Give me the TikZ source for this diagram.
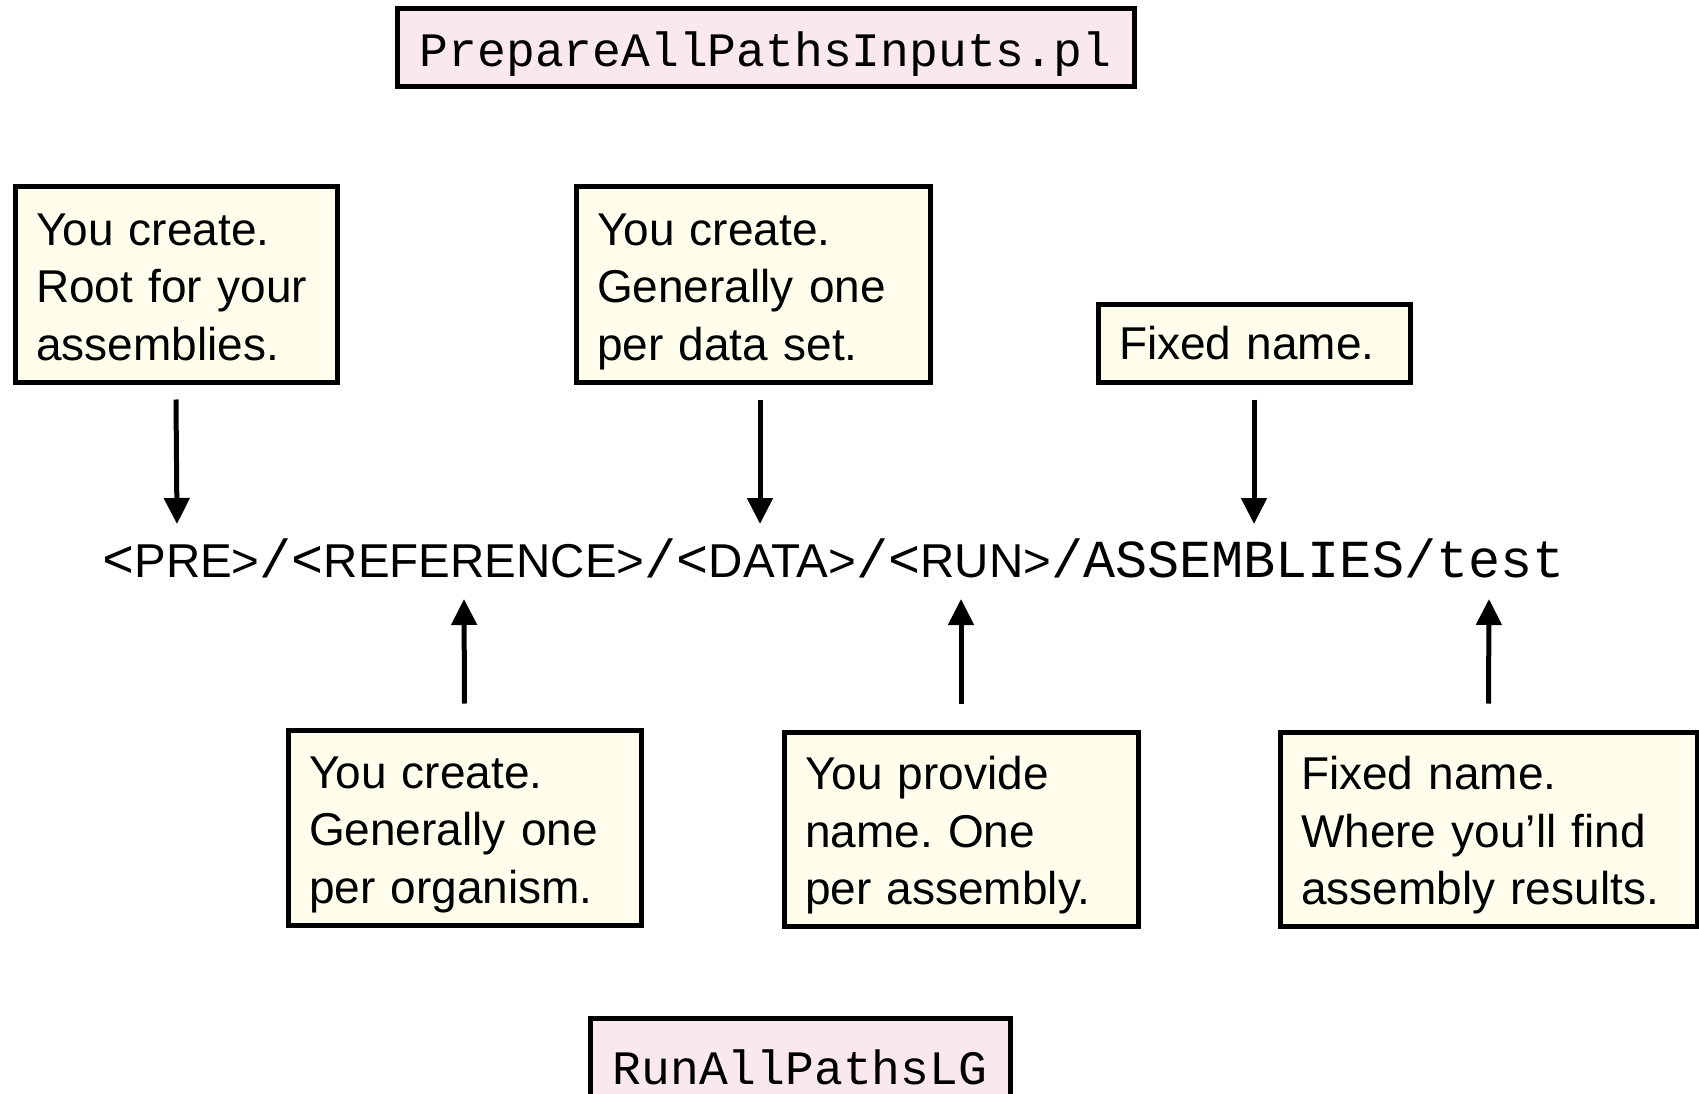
\documentclass[tikz,border=0pt]{standalone}
\usepackage{fontspec}
\setmainfont{Liberation Sans}
\setmonofont{Liberation Mono}
\usepackage{tikz}
\usetikzlibrary{arrows.meta,positioning}
\definecolor{scriptpink}{RGB}{249,232,236}
\definecolor{notecream}{RGB}{255,253,236}
\tikzset{
    scriptbox/.style={draw=black, line width=5pt, fill=scriptpink, inner sep=0pt,
        text height=48pt, text depth=10pt, font=\ttfamily\fontsize{48pt}{56pt}\selectfont},
    notebox/.style={draw=black, line width=5pt, fill=notecream, inner xsep=21pt, inner ysep=0pt,
        align=left, font=\fontsize{46pt}{57.5pt}\selectfont},
    threelines/.style={text height=35pt, text depth=114pt},
    pointer/.style={line width=5pt, -{Triangle[length=26pt,width=25pt]}}
}
\frenchspacing

\begin{document}
\begin{tikzpicture}[x=1pt,y=-1pt]
        \useasboundingbox (0,0) rectangle (1699,1094);
        % Scripts
        \node[scriptbox, minimum width=737pt, minimum height=78pt] (prepareScript) at (765.5,48) {PrepareAllPathsInputs.pl};
        \node[scriptbox, minimum width=420pt, minimum height=94pt] (runScript) at (800,1065) {RunAllPathsLG};
        % Directory path
        \node[inner sep=0pt, anchor=base, font=\fontsize{47.5pt}{60pt}\selectfont] (dirPath) at (833.5,577)
            {{\ttfamily\fontsize{53.5pt}{60pt}\selectfont<}PRE>{\ttfamily\fontsize{53.5pt}{60pt}\selectfont/<}REFERENCE>{\ttfamily\fontsize{53.5pt}{60pt}\selectfont/<}DATA>{\ttfamily\fontsize{53.5pt}{60pt}\selectfont/<}RUN>{\ttfamily\fontsize{53.5pt}{60pt}\selectfont/ASSEMBLIES/test}};
        % Notes above
        \node[notebox, threelines, text width=280pt, minimum height=195pt] (preNote) at (176,284.5)
            {You create.\\Root for your\\assemblies.};
        \node[notebox, threelines, text width=312pt, minimum height=195pt] (dataNote) at (753,284.5)
            {You create.\\Generally one\\per data set.};
        \node[notebox, text width=270pt, minimum height=78pt] (asmNote) at (1254,343)
            {Fixed name.};
        % Notes below
        \node[notebox, threelines, text width=311pt, minimum height=195pt] (refNote) at (464.5,827.5)
            {You create.\\Generally one\\per organism.};
        \node[notebox, threelines, text width=312pt, minimum height=194pt] (runNote) at (961,829)
            {You provide\\name. One\\per assembly.};
        \node[notebox, threelines, text width=375pt, minimum height=194pt] (testNote) at (1488.5,829)
            {Fixed name.\\Where you’ll find\\assembly results.};
        % Arrow tips on the path
        \coordinate (preTip) at (177,524);
        \coordinate (dataTip) at (760,524);
        \coordinate (asmTip) at (1254,524);
        \coordinate (refTip) at (464,599);
        \coordinate (runTip) at (961,599);
        \coordinate (testTip) at (1489,599);
        \draw[pointer] ([yshift=-15pt]preNote.south) -- (preTip);
        \draw[pointer] ([xshift=7pt,yshift=-15pt]dataNote.south) -- (dataTip);
        \draw[pointer] ([yshift=-15pt]asmNote.south) -- (asmTip);
        \draw[pointer] ([yshift=24pt]refNote.north) -- (refTip);
        \draw[pointer] ([yshift=26pt]runNote.north) -- (runTip);
        \draw[pointer] ([yshift=26pt]testNote.north) -- (testTip);
    \end{tikzpicture}
\end{document}
